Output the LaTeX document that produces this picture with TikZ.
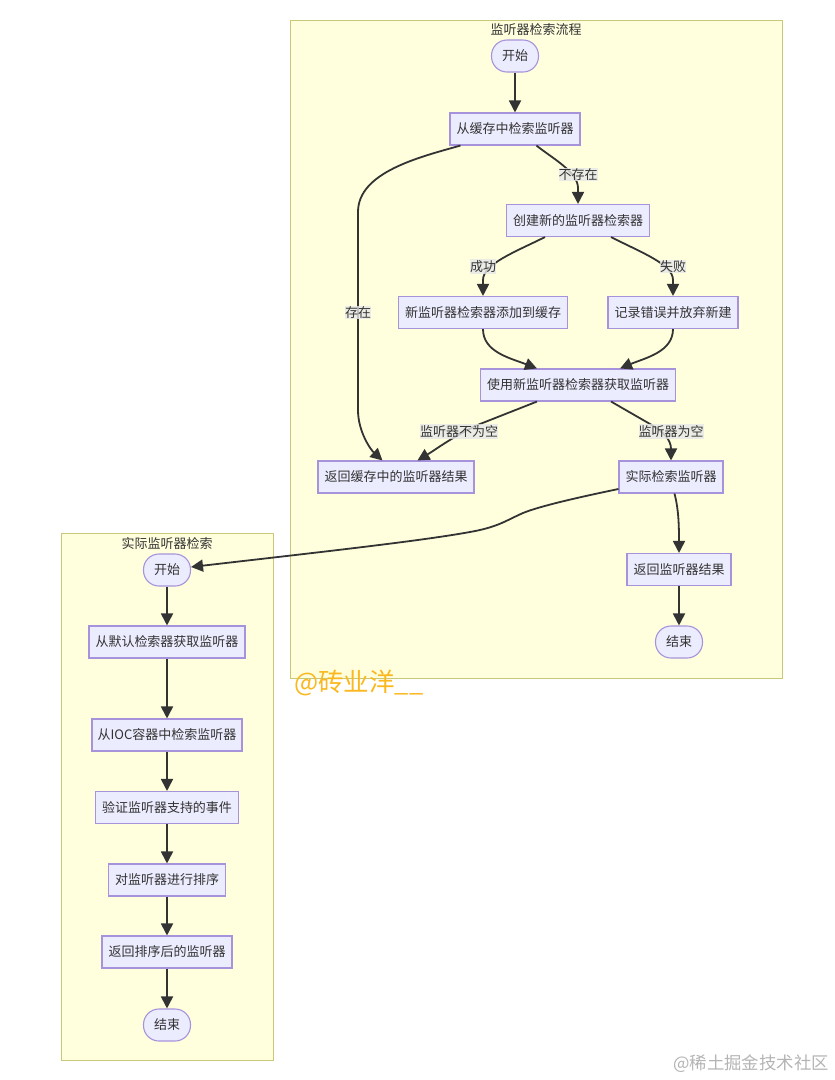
\documentclass[tikz,border=0pt]{standalone}
\usepackage{fontspec}
\setmainfont{Noto Sans CJK SC}
\usetikzlibrary{arrows.meta,calc}
\definecolor{nodefill}{HTML}{ECECFF}
\definecolor{nodeline}{HTML}{A693DC}
\definecolor{clusterfill}{HTML}{FFFFDE}
\definecolor{clusterline}{HTML}{C8C878}
\definecolor{ink}{HTML}{333333}
\definecolor{labelbg}{HTML}{E8E8E8}
\definecolor{mark}{HTML}{FBB81E}
\definecolor{markgray}{HTML}{B4B4B4}
\newcommand{\txt}{\fontsize{13}{15}\selectfont}
\tikzset{
  cluster/.style={draw=clusterline,fill=clusterfill,line width=1.2pt,rectangle,inner sep=0pt,anchor=north west},
  boxnode/.style={draw=nodeline,fill=nodefill,line width=1.1pt,rectangle,inner sep=0pt,text=ink,font=\txt,minimum height=32pt,text height=11pt,text depth=2pt},
  pill/.style={boxnode,rounded corners=15.5pt,minimum width=47pt},
  edge/.style={draw=ink,line width=1.8pt,-{Triangle[length=12pt,width=12pt]}},
  elabel/.style={fill=labelbg,fill opacity=.8,text opacity=1,text=ink,font=\txt,inner xsep=0pt,inner ysep=1pt},
  ctitle/.style={text=ink,font=\txt,inner sep=0pt}
}
\begin{document}
\begin{tikzpicture}[x=1pt,y=-1pt]
\useasboundingbox (0,0) rectangle (835,1080);
% clusters
\node[cluster,minimum width=492pt,minimum height=658pt] (outer) at (290,20) {};
\node[cluster,minimum width=212pt,minimum height=527pt] (inner) at (61,533) {};
\node[ctitle] (t1) at (536,29.5) {监听器检索流程};
\node[ctitle] (t2) at (167,543.5) {实际监听器检索};
% outer nodes
\node[pill] (a) at (515,56) {开始};
\node[boxnode,minimum width=130pt] (b) at (515,129) {从缓存中检索监听器};
\node[boxnode,minimum width=143pt] (c) at (578,220.5) {创建新的监听器检索器};
\node[boxnode,minimum width=169pt] (d) at (483,312.5) {新监听器检索器添加到缓存};
\node[boxnode,minimum width=130pt] (e) at (673,312.5) {记录错误并放弃新建};
\node[boxnode,minimum width=195pt] (f) at (578,385) {使用新监听器检索器获取监听器};
\node[boxnode,minimum width=156pt] (g) at (396,477) {返回缓存中的监听器结果};
\node[boxnode,minimum width=104pt] (h) at (671,477) {实际检索监听器};
\node[boxnode,minimum width=104pt] (i) at (679,569.5) {返回监听器结果};
\node[pill] (j) at (679,642) {结束};
% inner nodes
\node[pill] (k) at (167,570) {开始};
\node[boxnode,minimum width=156pt] (l) at (167,642) {从默认检索器获取监听器};
\node[boxnode,minimum width=150pt] (m) at (167,735) {从IOC容器中检索监听器};
\node[boxnode,minimum width=143pt] (n) at (167,807.5) {验证监听器支持的事件};
\node[boxnode,minimum width=117pt] (o) at (167,880) {对监听器进行排序};
\node[boxnode,minimum width=130pt] (p) at (167,952) {返回排序后的监听器};
\node[pill] (q) at (167,1025) {结束};
% connectors
\draw[edge] (a) -- (b);
\draw[edge] ($(b.south west)+(11,0)$) .. controls (420,157) and (358,172) .. (358,212) -- (358,410) .. controls (358,432) and (371,450) .. ($(g.north west)+(65,0)$);
\draw[edge] ($(b.south west)+(87,0)$) .. controls (552,158) and (578,172) .. (578,188) -- (c.north);
\draw[edge] ($(c.south west)+(39,0)$) .. controls (515,252) and (483,264) .. (483,280) -- (d.north);
\draw[edge] ($(c.south east)+(-39,0)$) .. controls (640,252) and (673,264) .. (673,280) -- (e.north);
\draw[edge] (d.south) .. controls (483,352) and (510,358) .. ($(f.north west)+(57,0)$);
\draw[edge] (e.south) .. controls (673,352) and (645,358) .. ($(f.north east)+(-56,0)$);
\draw[edge] ($(f.south west)+(57,0)$) -- (480,424) .. controls (455,435) and (435,450) .. ($(g.north west)+(100,0)$);
\draw[edge] ($(f.south east)+(-65,0)$) -- (650,424) .. controls (664,432) and (671,440) .. (h.north);
\draw[edge] ($(h.south west)+(56,0)$) .. controls (679,510) and (679,530) .. (i.north);
\draw[edge] (i) -- (j);
\draw[edge] ($(h.west)+(0,12)$) .. controls (580,497) and (540,506) .. (523,513) .. controls (505,521) and (498,527) .. (470,532) .. controls (420,541) and (330,551) .. (191,567);
\draw[edge] (k) -- (l);
\draw[edge] (l) -- (m);
\draw[edge] (m) -- (n);
\draw[edge] (n) -- (o);
\draw[edge] (o) -- (p);
\draw[edge] (p) -- (q);
% edge labels
\node[elabel] (lb1) at (358,312.5) {存在};
\node[elabel] (lb2) at (578,174.5) {不存在};
\node[elabel] (lb3) at (483,266.5) {成功};
\node[elabel] (lb4) at (673,266.5) {失败};
\node[elabel] (lb5) at (459,431.5) {监听器不为空};
\node[elabel] (lb6) at (671,431.5) {监听器为空};
% watermarks
\node[anchor=west,inner sep=0pt,text=mark,font=\fontsize{25.5}{28}\selectfont] (w1) at (294,683) {@砖业洋\_\_};
\node[anchor=east,inner sep=0pt,text=markgray,font=\fontsize{17.4}{20}\selectfont] (w2) at (829,1064) {@稀土掘金技术社区};
\end{tikzpicture}
\end{document}
